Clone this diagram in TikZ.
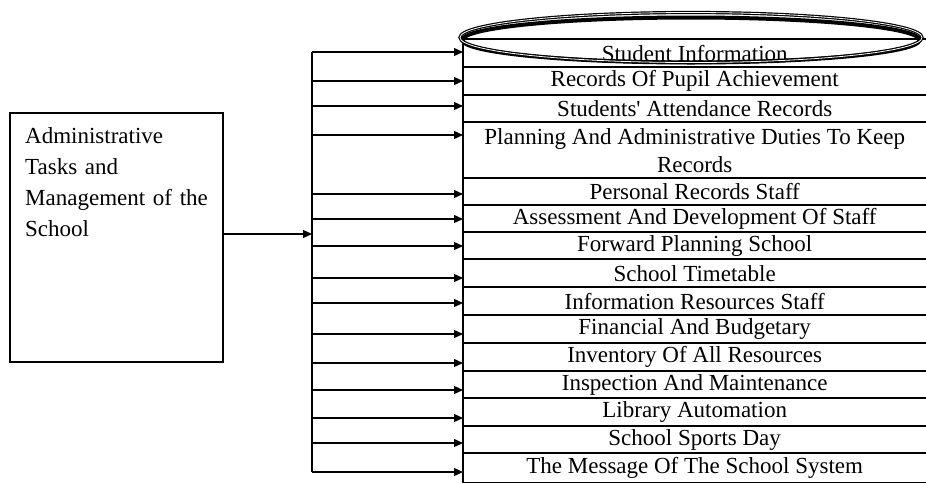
\documentclass[tikz,border=0pt]{standalone}
\usepackage{fontspec}
\setmainfont{Liberation Serif}[Ligatures=TeXOff]
\usetikzlibrary{arrows.meta}
\tikzset{
  ln/.style={line width=1.3pt, black},
  arr/.style={ln, -{Triangle[length=9pt,width=8pt]}},
  rowbox/.style={anchor=north west, minimum width=463pt, inner sep=0pt,
    align=center, font=\fontsize{23}{28}\selectfont},
  boxtxt/.style={anchor=north west, inner sep=0pt, text width=190pt,
    align=left, font=\fontsize{23}{31}\selectfont}
}
\begin{document}
\begin{tikzpicture}[x=1pt,y=-1pt]
\useasboundingbox (0,0) rectangle (926,483);

% main box on the left
\draw[ln] (10,113) rectangle (223,362);
\coordinate (boxE) at (223,234);
\node[boxtxt] (adm) at (25,127) {Administrative\\Tasks and\\Management of the\\School};

% distribution bus
\coordinate (busTop) at (312,52);
\coordinate (busBot) at (312,472);
\draw[ln] (busTop) -- (busBot);
\draw[arr] (boxE) -- (boxE -| busTop);

% list of activities
\foreach \i/\ytop/\ybot/\ya/\txt in {
  1/39/67/52/{Student Information},
  2/67/95/81/{Records Of Pupil Achievement},
  3/95/122/106/{Students' Attendance Records},
  4/122/178/135/{Planning And Administrative Duties To Keep\\Records},
  5/178/205/194/{Personal Records Staff},
  6/205/232/219/{Assessment And Development Of Staff},
  7/232/259/246/{Forward Planning School},
  8/259/287/278/{School Timetable},
  9/287/315/303/{Information Resources Staff},
  10/315/343/334/{Financial And Budgetary},
  11/343/371/363/{Inventory Of All Resources},
  12/371/398/390/{Inspection And Maintenance},
  13/398/426/418/{Library Automation},
  14/426/453/443/{School Sports Day},
  15/453/482/472/{The Message Of The School System}}{
  \pgfmathsetmacro{\hh}{\ybot-\ytop}
  \node[rowbox, minimum height=\hh pt] (r\i) at (463,\ytop) {\txt};
  \draw[ln] (r\i.north west) -- (r\i.north east);
  \coordinate (t\i) at (312,\ya);
  \draw[arr] (t\i) -- (t\i -| r\i.west);
}
\draw[ln] (r1.north west) -- (r15.south west) -- (r15.south east);

% highlight ring around the first item
\draw[line width=4pt] (691,40) ellipse (228.5 and 22.5);
\draw[line width=1.2pt, double=white, double distance=0.8pt] (691,37.5) ellipse (231 and 25);
\end{tikzpicture}
\end{document}
